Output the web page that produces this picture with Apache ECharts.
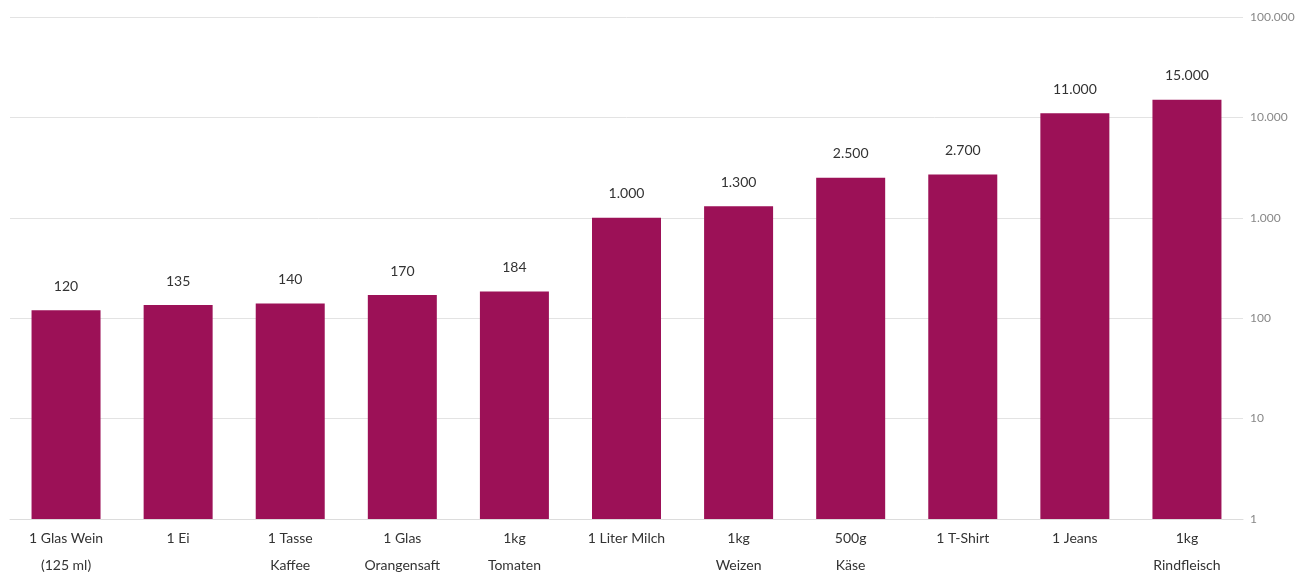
<!DOCTYPE html>
<html><head><meta charset="utf-8">
<script src="https://cdn.jsdelivr.net/npm/echarts@6/dist/echarts.min.js"></script>
<style>html,body{margin:0;padding:0;background:#fff}#c{width:1308px;height:579px}</style>
</head><body><div id="c"></div>
<script>
const categories = ["1 Glas Wein\n(125 ml)", "1 Ei", "1 Tasse\nKaffee", "1 Glas\nOrangensaft", "1kg\nTomaten", "1 Liter Milch", "1kg\nWeizen", "500g\nKäse", "1 T-Shirt", "1 Jeans", "1kg\nRindfleisch"];
const values = [120, 135, 140, 170, 184, 1000, 1300, 2500, 2700, 11000, 15000];
const yMin = 1, yMax = 100000;

function de(n){ return String(Math.round(n)).replace(/\B(?=(\d{3})+(?!\d))/g, "."); }

const chart = echarts.init(document.getElementById('c'), null, {renderer:'canvas'});
chart.setOption({
  animation:false,
  textStyle:{fontFamily:"Lato,'Noto Sans',sans-serif"},
  grid:{left:10, right:65, top:17, bottom:55, containLabel:false},
  xAxis:{
    type:'category', data:categories,
    axisLine:{show:true, lineStyle:{color:'#dcdcdc', width:1}},
    axisTick:{show:false},
    axisLabel:{color:'#333', fontSize:14, lineHeight:27, margin:6, interval:0}
  },
  yAxis:{
    type:'log', logBase:10, min:yMin, max:yMax, position:'right',
    axisLine:{show:false}, axisTick:{show:false},
    splitLine:{show:true, lineStyle:{color:'#e3e3e3', width:1}},
    axisLabel:{color:'#888', fontSize:12, margin:7, formatter:v=>de(v)}
  },
  series:[{
    type:'bar', data:values, barWidth:69,
    itemStyle:{color:'#9c1157'},
    label:{show:true, position:'top', distance:17, color:'#333', fontSize:14, formatter:p=>de(p.value)}
  }]
});
</script></body></html>
